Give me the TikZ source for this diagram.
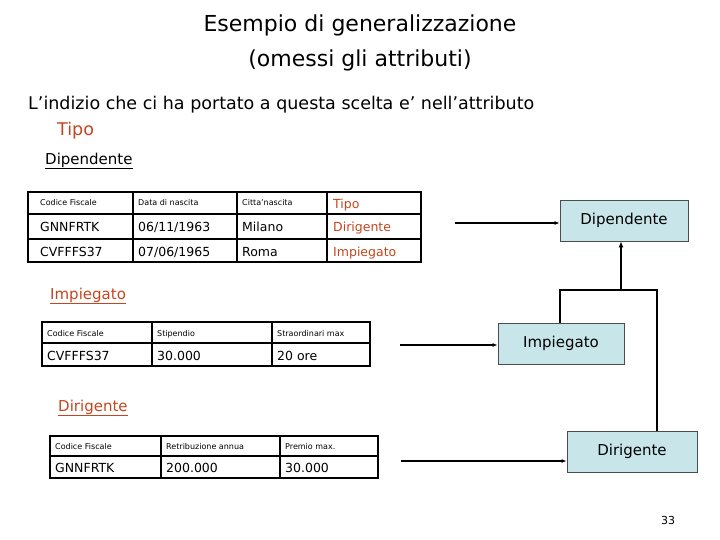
\documentclass[tikz,border=0pt]{standalone}
\usepackage{fontspec}
\setmainfont{DejaVu Sans}
\usetikzlibrary{arrows.meta}
\definecolor{rd}{HTML}{C4461E}
\definecolor{bx}{HTML}{C8E6EA}
\tikzset{
  grid/.style={draw=black,line width=1.6pt},
  sep/.style={draw=black,line width=1.2pt},
  hd/.style={anchor=base west,font=\fontsize{8}{9}\selectfont,inner sep=0pt},
  dt/.style={anchor=base west,font=\fontsize{12.5}{13}\selectfont,inner sep=0pt},
  ent/.style={draw=black!70,fill=bx,line width=0.8pt,font=\fontsize{15}{16}\selectfont,inner sep=0pt},
  arr/.style={-{Latex[length=5pt,width=4pt]},line width=1.2pt},
  tree/.style={line width=2.2pt},
  ttl/.style={anchor=west,inner sep=0pt}
}
\begin{document}
\begin{tikzpicture}[x=1pt,y=-1pt]
\useasboundingbox (0,0) rectangle (720,540);
\node (t1) at (360,25) {\fontsize{22}{26}\selectfont Esempio di generalizzazione};
\node (t2) at (360,60) {\fontsize{22}{26}\selectfont (omessi gli attributi)};
\node[ttl] (ind) at (28,105) {\fontsize{17.5}{20}\selectfont L’indizio che ci ha portato a questa scelta e’ nell’attributo};
\node[ttl,text=rd] (tipo) at (57,131) {\fontsize{17.5}{20}\selectfont Tipo};
\node[ttl] (hdip) at (45,161) {\fontsize{15}{18}\selectfont \underline{Dipendente}};
\node[ttl,text=rd] (himp) at (50,296) {\fontsize{15}{18}\selectfont \underline{Impiegato}};
\node[ttl,text=rd] (hdir) at (58,408) {\fontsize{15}{18}\selectfont \underline{Dirigente}};
% table 1
\draw[grid] (28,192) rectangle (421,262);
\draw[sep] (28,214)--(421,214) (28,239)--(421,239)
  (133,192)--(133,262) (237,192)--(237,262) (327,192)--(327,262);
\node[hd] (a1) at (40,206) {Codice Fiscale};
\node[hd] (a2) at (138,206) {Data di nascita};
\node[hd] (a3) at (242,206) {Citta’nascita};
\node[dt,text=rd] (a4) at (333,208) {Tipo};
\node[dt] (b1) at (40,232) {GNNFRTK};
\node[dt] (b2) at (138,232) {06/11/1963};
\node[dt] (b3) at (242,232) {Milano};
\node[dt,text=rd] (b4) at (333,232) {Dirigente};
\node[dt] (c1) at (40,256) {CVFFFS37};
\node[dt] (c2) at (138,256) {07/06/1965};
\node[dt] (c3) at (242,256) {Roma};
\node[dt,text=rd] (c4) at (333,256) {Impiegato};
% table 2
\draw[grid] (42,322) rectangle (370,366);
\draw[sep] (42,343)--(370,343) (152,322)--(152,366) (272,322)--(272,366);
\node[hd] (d1) at (47,336) {Codice Fiscale};
\node[hd] (d2) at (157,336) {Stipendio};
\node[hd] (d3) at (277,336) {Straordinari max};
\node[dt] (e1) at (47,360) {CVFFFS37};
\node[dt] (e2) at (157,360) {30.000};
\node[dt] (e3) at (277,360) {20 ore};
% table 3
\draw[grid] (50,436) rectangle (378,478);
\draw[sep] (50,456)--(378,456) (161,436)--(161,478) (280,436)--(280,478);
\node[hd] (f1) at (55,449) {Codice Fiscale};
\node[hd] (f2) at (166,449) {Retribuzione annua};
\node[hd] (f3) at (285,449) {Premio max.};
\node[dt] (g1) at (55,472) {GNNFRTK};
\node[dt] (g2) at (166,472) {200.000};
\node[dt] (g3) at (285,472) {30.000};
% entities
\node[ent,minimum width=128pt,minimum height=41pt] (dip) at (624,220.5) {Dipendente};
\node[ent,minimum width=126pt,minimum height=41pt] (imp) at (561,343.5) {Impiegato};
\node[ent,minimum width=130pt,minimum height=41pt] (dir) at (632,451.5) {Dirigente};
\coordinate (s1) at (455,223); \coordinate (s2) at (400,345); \coordinate (s3) at (401,461);
\draw[arr] (s1) -- (dip.west|-s1);
\draw[arr] (s2) -- (imp.west|-s2);
\draw[arr] (s3) -- (dir.west|-s3);
\coordinate (j) at (621,290);
\coordinate (ja) at (560,290);
\coordinate (jb) at (657,290);
\draw[tree] (imp.north-|ja) -- (ja) -- (jb) -- (dir.north-|jb);
\draw[tree,-{Latex[length=6pt,width=5pt]}] (j) -- (dip.south-|j);
\node (pg) at (668,520) {\fontsize{11}{13}\selectfont 33};
\end{tikzpicture}
\end{document}
